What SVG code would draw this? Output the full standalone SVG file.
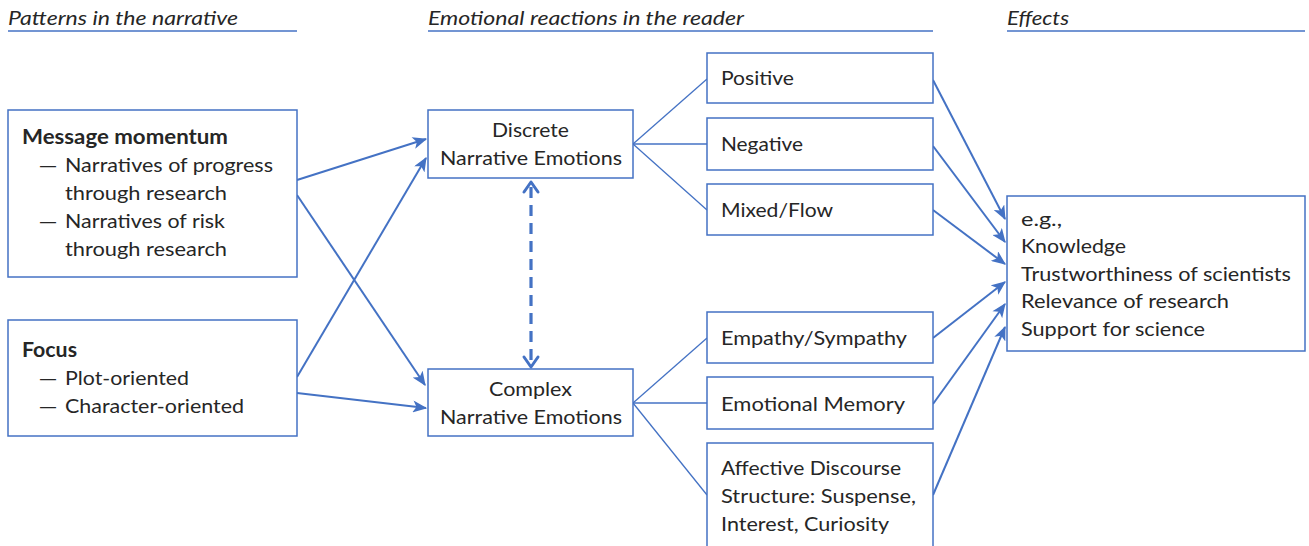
<svg xmlns="http://www.w3.org/2000/svg" width="1309" height="546" viewBox="0 0 1309 546">
<style>
text{font-family:Lato,"Liberation Sans",sans-serif;font-size:20px;fill:#262626}
.h{font-style:italic}
.b{font-weight:bold}
.d{font-family:"Liberation Sans",sans-serif;font-size:16px}
.box{fill:#fff;stroke:#4472C4;stroke-width:1.5}
.ul{stroke:#4472C4;stroke-width:1.5}
.thin{stroke:#4472C4;stroke-width:1.3;fill:none}
.arr{stroke:#4472C4;stroke-width:2;fill:none;marker-end:url(#ah)}
.dash{stroke:#4472C4;stroke-width:3.2;fill:none;stroke-dasharray:11 7}
.chev{stroke:#4472C4;stroke-width:3;fill:none;stroke-linecap:round;stroke-linejoin:round}
</style>
<defs>
<marker id="ah" viewBox="0 0 12 10" refX="11" refY="5" markerWidth="7.5" markerHeight="6" orient="auto" markerUnits="strokeWidth">
<path d="M0,0 L12,5 L0,10 L3,5 z" fill="#4472C4"/>
</marker>
</defs>
<g id="headers">
<text class="h" x="8" y="25" textLength="230" lengthAdjust="spacingAndGlyphs">Patterns in the narrative</text>
<line class="ul" x1="8" y1="31" x2="297" y2="31"/>
<text class="h" x="428" y="25" textLength="316" lengthAdjust="spacingAndGlyphs">Emotional reactions in the reader</text>
<line class="ul" x1="428" y1="31" x2="933" y2="31"/>
<text class="h" x="1007" y="25" textLength="62" lengthAdjust="spacingAndGlyphs">Effects</text>
<line class="ul" x1="1007" y1="31" x2="1305" y2="31"/>
</g>
<g id="connectors">
<line class="arr" x1="297" y1="180" x2="426" y2="139"/>
<line class="arr" x1="297" y1="195" x2="425" y2="385"/>
<line class="arr" x1="297" y1="377" x2="426" y2="158"/>
<line class="arr" x1="297" y1="393" x2="426" y2="408"/>
<line class="dash" x1="531" y1="187" x2="531" y2="362"/>
<polyline class="chev" points="524,192 531,182 538,192"/>
<polyline class="chev" points="524,357 531,367 538,357"/>
<line class="thin" x1="633" y1="144" x2="707" y2="79"/>
<line class="thin" x1="633" y1="144" x2="707" y2="144"/>
<line class="thin" x1="633" y1="144" x2="707" y2="210"/>
<line class="thin" x1="633" y1="403" x2="707" y2="338"/>
<line class="thin" x1="633" y1="403" x2="707" y2="403"/>
<line class="thin" x1="633" y1="403" x2="707" y2="495"/>
<line class="arr" x1="933" y1="80" x2="1005" y2="219"/>
<line class="arr" x1="933" y1="146" x2="1005" y2="242"/>
<line class="arr" x1="933" y1="210" x2="1005" y2="264"/>
<line class="arr" x1="933" y1="338" x2="1005" y2="282"/>
<line class="arr" x1="933" y1="404" x2="1005" y2="304"/>
<line class="arr" x1="933" y1="495" x2="1005" y2="327"/>
</g>
<g id="message-momentum">
<rect class="box" x="8" y="110" width="289" height="167"/>
<text class="b" x="22" y="144" textLength="206" lengthAdjust="spacingAndGlyphs">Message momentum</text>
<text class="d" x="40" y="171">—</text>
<text x="65" y="172" textLength="208" lengthAdjust="spacingAndGlyphs">Narratives of progress</text>
<text x="65" y="200" textLength="162" lengthAdjust="spacingAndGlyphs">through research</text>
<text class="d" x="40" y="227">—</text>
<text x="65" y="228" textLength="160" lengthAdjust="spacingAndGlyphs">Narratives of risk</text>
<text x="65" y="256" textLength="162" lengthAdjust="spacingAndGlyphs">through research</text>
</g>
<g id="focus">
<rect class="box" x="8" y="320" width="289" height="116"/>
<text class="b" x="22" y="357" textLength="55" lengthAdjust="spacingAndGlyphs">Focus</text>
<text class="d" x="40" y="384">—</text>
<text x="65" y="385" textLength="124" lengthAdjust="spacingAndGlyphs">Plot-oriented</text>
<text class="d" x="40" y="412">—</text>
<text x="65" y="413" textLength="179" lengthAdjust="spacingAndGlyphs">Character-oriented</text>
</g>
<g id="discrete">
<rect class="box" x="428" y="110" width="205" height="68"/>
<text x="492" y="137" textLength="77" lengthAdjust="spacingAndGlyphs">Discrete</text>
<text x="440" y="165" textLength="182" lengthAdjust="spacingAndGlyphs">Narrative Emotions</text>
</g>
<g id="complex">
<rect class="box" x="428" y="369" width="205" height="67"/>
<text x="489" y="396" textLength="83" lengthAdjust="spacingAndGlyphs">Complex</text>
<text x="440" y="424" textLength="182" lengthAdjust="spacingAndGlyphs">Narrative Emotions</text>
</g>
<g id="positive">
<rect class="box" x="707" y="53" width="226" height="50"/>
<text x="721" y="85" textLength="73" lengthAdjust="spacingAndGlyphs">Positive</text>
</g>
<g id="negative">
<rect class="box" x="707" y="118" width="226" height="52"/>
<text x="721" y="151" textLength="82" lengthAdjust="spacingAndGlyphs">Negative</text>
</g>
<g id="mixed">
<rect class="box" x="707" y="184" width="226" height="51"/>
<text x="721" y="217" textLength="112" lengthAdjust="spacingAndGlyphs">Mixed/Flow</text>
</g>
<g id="empathy">
<rect class="box" x="707" y="312" width="226" height="51"/>
<text x="721" y="345" textLength="186" lengthAdjust="spacingAndGlyphs">Empathy/Sympathy</text>
</g>
<g id="memory">
<rect class="box" x="707" y="377" width="226" height="52"/>
<text x="721" y="411" textLength="184" lengthAdjust="spacingAndGlyphs">Emotional Memory</text>
</g>
<g id="affective">
<rect class="box" x="707" y="443" width="226" height="110"/>
<text x="721" y="475" textLength="180" lengthAdjust="spacingAndGlyphs">Affective Discourse</text>
<text x="721" y="503" textLength="195" lengthAdjust="spacingAndGlyphs">Structure: Suspense,</text>
<text x="721" y="531" textLength="168" lengthAdjust="spacingAndGlyphs">Interest, Curiosity</text>
</g>
<g id="effects">
<rect class="box" x="1007" y="196" width="298" height="155"/>
<text x="1021" y="226" textLength="41" lengthAdjust="spacingAndGlyphs">e.g.,</text>
<text x="1021" y="253" textLength="105" lengthAdjust="spacingAndGlyphs">Knowledge</text>
<text x="1021" y="281" textLength="270" lengthAdjust="spacingAndGlyphs">Trustworthiness of scientists</text>
<text x="1021" y="308" textLength="208" lengthAdjust="spacingAndGlyphs">Relevance of research</text>
<text x="1021" y="336" textLength="184" lengthAdjust="spacingAndGlyphs">Support for science</text>
</g>
</svg>
